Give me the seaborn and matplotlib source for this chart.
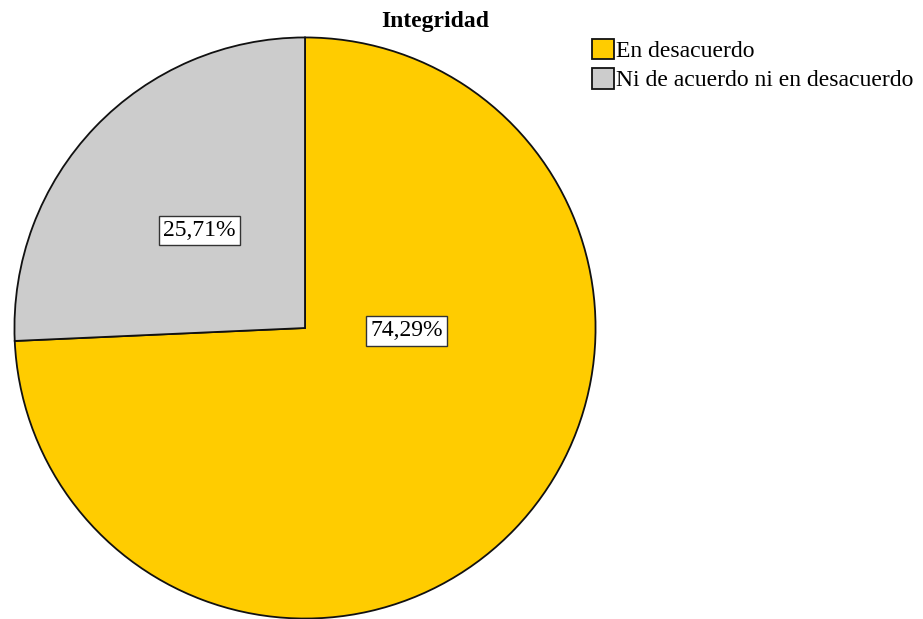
import matplotlib
matplotlib.use("Agg")
import matplotlib.pyplot as plt
import seaborn as sns

categories = ["En desacuerdo", "Ni de acuerdo ni en desacuerdo"]
values = [74.29, 25.71]
colors = ["#FFCC00", "#CCCCCC"]
title = "Integridad"

sns.set_theme(style="white")
plt.rcParams["font.family"] = ["Liberation Serif", "DejaVu Serif"]
plt.rcParams["text.color"] = "black"

W, H = 923, 619
fig = plt.figure(figsize=(W / 100, H / 100), dpi=100)
cx, cy, r = 305, 328, 292
ax = fig.add_axes([(cx - r) / W, (H - cy - r) / H, 2 * r / W, 2 * r / H])
wedges, _ = ax.pie(values, colors=colors, startangle=90, counterclock=False,
                   wedgeprops=dict(edgecolor="#111111", linewidth=1.3), radius=1)
ax.set_xlim(-1.005, 1.005)
ax.set_ylim(-1.005, 1.005)
ax.set_aspect("auto")
ax.axis("off")

label_pos = [(0.35, -0.01), (-0.363, 0.335)]
for v, (x, y) in zip(values, label_pos):
    ax.text(x, y, f"{v:.2f}%".replace(".", ","), ha="center", va="center",
            fontsize=17, color="black",
            bbox=dict(boxstyle="square,pad=0.18", facecolor="white",
                      edgecolor="#333333", linewidth=1))

fig.text(435 / W, 1 - 21 / H, title, ha="center", va="center",
         fontsize=17, fontweight="bold", color="black")

fig.legend(wedges, categories, loc="upper left",
           bbox_to_anchor=(592 / W, 1 - 39 / H), frameon=False,
           fontsize=17, handlelength=0.95, handleheight=0.95,
           handletextpad=0.08, labelspacing=0.25, borderpad=0,
           borderaxespad=0)

fig.savefig("out.png", dpi=100)
